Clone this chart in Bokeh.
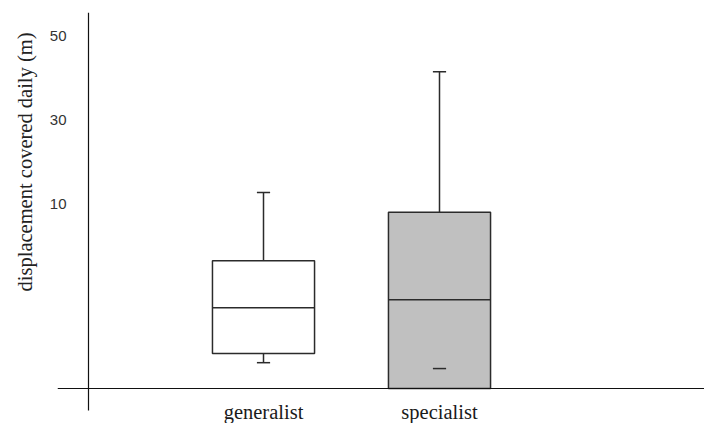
from bokeh.plotting import figure
from bokeh.models import Range1d, FixedTicker, ColumnDataSource, LinearAxis, Title, LabelSet
from bokeh.core.properties import value
from bokeh.embed import file_html
from bokeh.resources import INLINE

# ---- data (in the units of the y-axis labels) ----
categories = ["generalist", "specialist"]
whisker_high = [12.6, 41.4]
q3 = [-3.6, 7.9]
median = [-14.8, -12.9]
q1 = [-25.7, -34.05]
whisker_low = [-27.9, -29.3]
fill_colors = ["#ffffff", "#c0c0c0"]
y_ticks = [10, 30, 50]
baseline = -34.05

xs = [i + 1 for i in range(len(categories))]
box_w = 0.58
cap_w = 0.075
y_axis_x = 0.0057
y_top, y_bottom = 55.48, -42.38
y_line_bottom = -39.29

p = figure(width=704, height=423,
           x_range=Range1d(-0.1705, 3.5057), y_range=Range1d(y_bottom, y_top),
           x_axis_location=None, y_axis_location=None,
           output_backend="svg", toolbar_location=None,
           min_border_left=57, min_border_right=0,
           min_border_top=12, min_border_bottom=0)
p.grid.visible = False
p.outline_line_color = None
p.background_fill_color = "white"
p.border_fill_color = "white"

# y axis: tick labels
ya = LinearAxis(ticker=FixedTicker(ticks=y_ticks))
ya.axis_line_color = None
ya.major_tick_line_color = None
ya.minor_tick_line_color = None
ya.major_tick_out = 0
ya.major_label_standoff = -9
ya.major_label_text_font = "Liberation Sans"
ya.major_label_text_font_size = "15px"
ya.major_label_text_color = "#333333"
p.add_layout(ya, "left")

# y axis title
ttl = Title(text="displacement covered daily (m)", align="right", offset=20, standoff=22,
            text_font="Liberation Serif", text_font_size="20.5px",
            text_font_style="normal", text_color="#222222")
p.add_layout(ttl, "left")

# axis lines crossing inside the frame
yl = LinearAxis(fixed_location=y_axis_x, ticker=FixedTicker(ticks=[]),
                bounds=(y_line_bottom, y_top))
yl.axis_line_color = "#111111"
yl.axis_line_width = 1.2
yl.major_tick_out = 0
yl.major_label_text_font_size = "0px"
yl.minor_tick_line_color = None
p.add_layout(yl, "right")

xl = LinearAxis(fixed_location=baseline, ticker=FixedTicker(ticks=[]))
xl.axis_line_color = "#111111"
xl.axis_line_width = 1.2
xl.major_tick_out = 0
xl.major_label_text_font_size = "0px"
xl.minor_tick_line_color = None
p.add_layout(xl, "above")

src = ColumnDataSource(dict(
    x=xs, cat=categories, base=[baseline] * len(xs),
    q1=q1, q3=q3, med=median, hi=whisker_high, lo=whisker_low,
    fill=fill_colors,
    left=[x - box_w / 2 for x in xs], right=[x + box_w / 2 for x in xs],
    cl=[x - cap_w / 2 for x in xs], cr=[x + cap_w / 2 for x in xs],
))

# category labels under the baseline
cats = LabelSet(x="x", y="base", text="cat", source=src, y_offset=-30,
                text_align="center", text_baseline="alphabetic",
                text_font=value("Liberation Serif"), text_font_size=value("20.5px"),
                text_color="#1a1a1a")
p.add_layout(cats)

line_c = "#2b2b2b"
# upper whiskers
p.segment(x0="x", x1="x", y0="q3", y1="hi", source=src, line_color=line_c, line_width=1.5)
# lower whiskers (only where the whisker reaches below the box)
lo_idx = [i for i in range(len(xs)) if whisker_low[i] < q1[i]]
p.segment(x0=[xs[i] for i in lo_idx], x1=[xs[i] for i in lo_idx],
          y0=[q1[i] for i in lo_idx], y1=[whisker_low[i] for i in lo_idx],
          line_color=line_c, line_width=1.5)
# boxes
p.quad(left="left", right="right", bottom="q1", top="q3", fill_color="fill",
       line_color=line_c, line_width=1.5, source=src)
# medians
p.segment(x0="left", x1="right", y0="med", y1="med", source=src, line_color=line_c, line_width=1.5)
# caps
p.segment(x0="cl", x1="cr", y0="hi", y1="hi", source=src, line_color=line_c, line_width=1.5)
p.segment(x0="cl", x1="cr", y0="lo", y1="lo", source=src, line_color=line_c, line_width=1.5)

open("out.html", "w").write(file_html(p, INLINE))
